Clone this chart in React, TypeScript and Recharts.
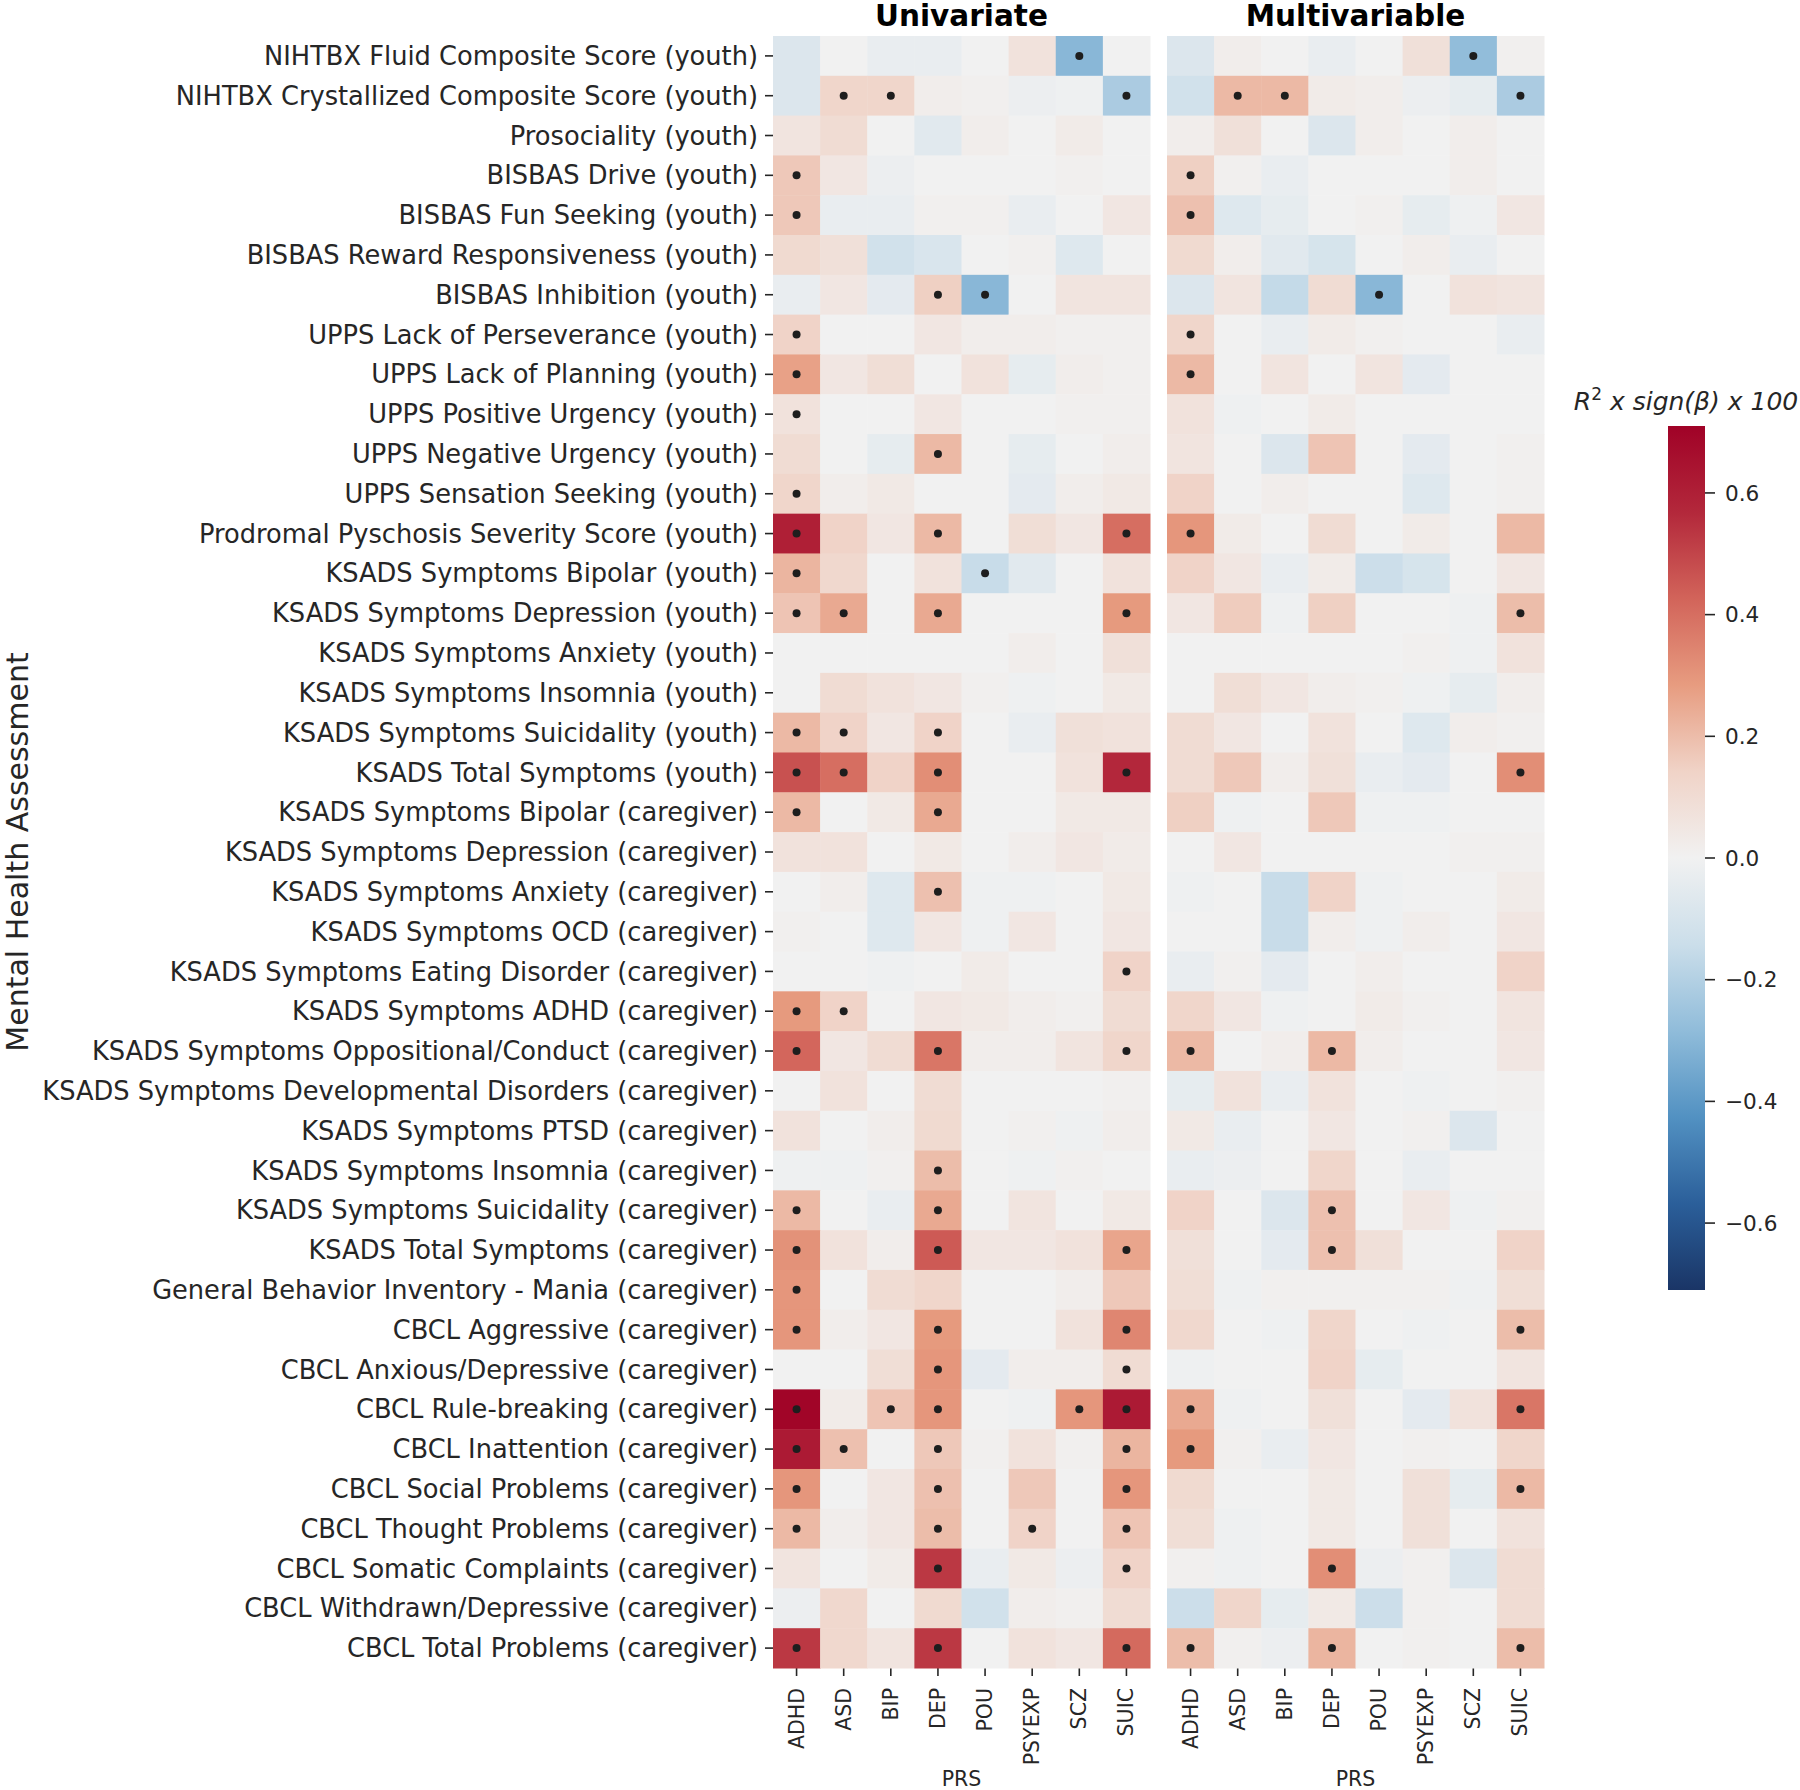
import { Bar, BarChart, Scatter, ScatterChart, XAxis, YAxis } from 'recharts';

const measures = [
  'NIHTBX Fluid Composite Score (youth)',
  'NIHTBX Crystallized Composite Score (youth)',
  'Prosociality (youth)',
  'BISBAS Drive (youth)',
  'BISBAS Fun Seeking (youth)',
  'BISBAS Reward Responsiveness (youth)',
  'BISBAS Inhibition (youth)',
  'UPPS Lack of Perseverance (youth)',
  'UPPS Lack of Planning (youth)',
  'UPPS Positive Urgency (youth)',
  'UPPS Negative Urgency (youth)',
  'UPPS Sensation Seeking (youth)',
  'Prodromal Pyschosis Severity Score (youth)',
  'KSADS Symptoms Bipolar (youth)',
  'KSADS Symptoms Depression (youth)',
  'KSADS Symptoms Anxiety (youth)',
  'KSADS Symptoms Insomnia (youth)',
  'KSADS Symptoms Suicidality (youth)',
  'KSADS Total Symptoms (youth)',
  'KSADS Symptoms Bipolar (caregiver)',
  'KSADS Symptoms Depression (caregiver)',
  'KSADS Symptoms Anxiety (caregiver)',
  'KSADS Symptoms OCD (caregiver)',
  'KSADS Symptoms Eating Disorder (caregiver)',
  'KSADS Symptoms ADHD (caregiver)',
  'KSADS Symptoms Oppositional/Conduct (caregiver)',
  'KSADS Symptoms Developmental Disorders (caregiver)',
  'KSADS Symptoms PTSD (caregiver)',
  'KSADS Symptoms Insomnia (caregiver)',
  'KSADS Symptoms Suicidality (caregiver)',
  'KSADS Total Symptoms (caregiver)',
  'General Behavior Inventory - Mania (caregiver)',
  'CBCL Aggressive (caregiver)',
  'CBCL Anxious/Depressive (caregiver)',
  'CBCL Rule-breaking (caregiver)',
  'CBCL Inattention (caregiver)',
  'CBCL Social Problems (caregiver)',
  'CBCL Thought Problems (caregiver)',
  'CBCL Somatic Complaints (caregiver)',
  'CBCL Withdrawn/Depressive (caregiver)',
  'CBCL Total Problems (caregiver)',
];

const prsScores = ['ADHD', 'ASD', 'BIP', 'DEP', 'POU', 'PSYEXP', 'SCZ', 'SUIC'];

// R^2 x sign(beta) x 100, one row per measure, columns follow prsScores
const univariate = [
  [-0.08, 0.0, -0.03, -0.03, 0.0, 0.07, -0.3, 0.0],
  [-0.08, 0.13, 0.13, 0.02, 0.01, -0.02, -0.01, -0.22],
  [0.06, 0.1, 0.0, -0.06, 0.02, 0.0, 0.03, 0.0],
  [0.17, 0.05, -0.02, 0.0, 0.0, 0.0, 0.01, 0.0],
  [0.17, -0.03, -0.03, 0.01, 0.01, -0.03, 0.0, 0.05],
  [0.11, 0.08, -0.12, -0.09, 0.0, 0.01, -0.07, 0.0],
  [-0.03, 0.05, -0.05, 0.15, -0.3, 0.0, 0.06, 0.06],
  [0.14, 0.0, 0.0, 0.05, 0.02, 0.02, 0.01, 0.01],
  [0.27, 0.05, 0.09, 0.0, 0.07, -0.04, 0.02, 0.01],
  [0.07, 0.0, 0.0, 0.05, 0.0, 0.0, 0.01, 0.01],
  [0.1, 0.0, -0.04, 0.21, 0.0, -0.04, 0.0, 0.02],
  [0.13, 0.02, 0.04, 0.0, 0.0, -0.05, 0.02, 0.04],
  [0.6, 0.14, 0.05, 0.21, 0.0, 0.09, 0.05, 0.4],
  [0.22, 0.12, 0.0, 0.07, -0.15, -0.06, 0.0, 0.07],
  [0.18, 0.25, 0.0, 0.25, 0.0, 0.0, 0.0, 0.29],
  [0.0, 0.0, 0.0, 0.0, 0.0, 0.02, 0.0, 0.08],
  [0.0, 0.1, 0.07, 0.05, 0.01, -0.01, 0.0, 0.04],
  [0.21, 0.14, 0.05, 0.14, 0.0, -0.03, 0.08, 0.07],
  [0.47, 0.4, 0.14, 0.32, 0.0, 0.0, 0.07, 0.57],
  [0.21, 0.0, 0.04, 0.25, 0.0, 0.0, 0.04, 0.04],
  [0.07, 0.07, 0.0, 0.04, 0.0, 0.02, 0.05, 0.03],
  [0.0, 0.02, -0.07, 0.19, -0.01, -0.01, 0.0, 0.04],
  [0.01, 0.0, -0.07, 0.05, -0.01, 0.05, 0.0, 0.05],
  [0.0, 0.0, -0.01, 0.0, 0.03, 0.0, 0.0, 0.14],
  [0.29, 0.14, 0.0, 0.05, 0.04, 0.02, 0.01, 0.1],
  [0.42, 0.05, 0.1, 0.38, 0.02, 0.02, 0.06, 0.13],
  [0.0, 0.07, 0.0, 0.1, 0.0, 0.0, 0.0, 0.01],
  [0.07, 0.0, 0.02, 0.11, 0.0, 0.01, -0.01, 0.02],
  [-0.01, -0.01, 0.01, 0.2, 0.0, -0.01, 0.01, 0.0],
  [0.21, 0.0, -0.03, 0.25, 0.0, 0.06, 0.0, 0.04],
  [0.31, 0.07, 0.02, 0.45, 0.05, 0.05, 0.07, 0.26],
  [0.3, 0.0, 0.1, 0.13, 0.0, 0.0, 0.02, 0.17],
  [0.3, 0.02, 0.05, 0.29, 0.0, 0.0, 0.07, 0.34],
  [0.0, 0.0, 0.09, 0.3, -0.05, 0.02, 0.02, 0.1],
  [0.7, 0.03, 0.18, 0.3, 0.0, -0.01, 0.3, 0.62],
  [0.62, 0.19, 0.0, 0.17, 0.01, 0.07, 0.01, 0.22],
  [0.3, 0.0, 0.05, 0.19, 0.0, 0.17, 0.0, 0.3],
  [0.21, 0.02, 0.05, 0.2, 0.0, 0.14, 0.0, 0.18],
  [0.06, 0.0, 0.03, 0.53, -0.03, 0.04, -0.02, 0.14],
  [-0.02, 0.12, 0.0, 0.11, -0.12, 0.02, 0.01, 0.1],
  [0.53, 0.12, 0.06, 0.53, 0.0, 0.07, 0.05, 0.41],
];

// 1 = significant (dot)
const univariateSig = [
  '00000010', '01100001', '00000000', '10000000', '10000000', '00000000', '00011000',
  '10000000', '10000000', '10000000', '00010000', '10000000', '10010001', '10001000',
  '11010001', '00000000', '00000000', '11010000', '11010001', '10010000', '00000000',
  '00010000', '00000000', '00000001', '11000000', '10010001', '00000000', '00000000',
  '00010000', '10010000', '10010001', '10000000', '10010001', '00010001', '10110011',
  '11010001', '10010001', '10010101', '00010001', '00000000', '10010001',
];

const multivariable = [
  [-0.08, 0.02, 0.0, -0.03, 0.0, 0.08, -0.28, 0.01],
  [-0.12, 0.21, 0.21, 0.03, 0.02, -0.02, -0.04, -0.22],
  [0.02, 0.08, 0.0, -0.08, 0.02, 0.0, 0.02, 0.0],
  [0.15, 0.01, -0.03, 0.0, 0.0, 0.0, 0.02, 0.0],
  [0.19, -0.07, -0.04, 0.0, 0.01, -0.04, -0.01, 0.05],
  [0.11, 0.02, -0.06, -0.1, 0.0, 0.02, -0.03, 0.0],
  [-0.08, 0.06, -0.16, 0.1, -0.3, 0.0, 0.07, 0.06],
  [0.13, 0.0, -0.03, 0.03, 0.01, 0.0, 0.0, -0.03],
  [0.21, 0.0, 0.06, 0.0, 0.06, -0.05, 0.0, 0.0],
  [0.07, -0.01, 0.0, 0.03, 0.0, 0.0, 0.0, 0.0],
  [0.06, 0.0, -0.08, 0.18, 0.0, -0.05, 0.0, 0.01],
  [0.14, 0.0, 0.02, 0.0, 0.0, -0.07, 0.0, 0.01],
  [0.3, 0.03, 0.0, 0.1, 0.0, 0.03, 0.0, 0.21],
  [0.14, 0.05, -0.03, 0.03, -0.14, -0.1, 0.0, 0.05],
  [0.05, 0.16, -0.01, 0.15, 0.0, 0.0, -0.01, 0.2],
  [0.0, 0.0, 0.0, 0.0, 0.0, 0.01, -0.01, 0.07],
  [0.0, 0.09, 0.05, 0.02, 0.01, -0.01, -0.04, 0.02],
  [0.1, 0.05, 0.0, 0.07, 0.0, -0.07, 0.02, 0.01],
  [0.1, 0.17, 0.02, 0.08, -0.03, -0.05, 0.0, 0.32],
  [0.15, -0.01, 0.0, 0.17, -0.01, -0.01, 0.0, 0.0],
  [0.0, 0.05, 0.0, 0.0, 0.0, 0.0, 0.01, 0.01],
  [-0.01, 0.0, -0.15, 0.14, -0.01, 0.0, 0.0, 0.03],
  [0.0, 0.0, -0.15, 0.02, -0.01, 0.02, 0.0, 0.05],
  [-0.03, 0.01, -0.05, 0.0, 0.02, 0.0, 0.0, 0.14],
  [0.13, 0.05, -0.01, 0.0, 0.03, 0.01, 0.0, 0.06],
  [0.21, 0.0, 0.02, 0.21, 0.02, 0.0, 0.0, 0.05],
  [-0.04, 0.07, -0.03, 0.07, 0.0, -0.01, 0.0, 0.01],
  [0.04, -0.03, 0.0, 0.05, 0.0, 0.01, -0.08, 0.0],
  [-0.03, -0.02, 0.0, 0.13, 0.0, -0.03, 0.0, 0.0],
  [0.14, 0.0, -0.08, 0.19, 0.0, 0.05, -0.01, 0.01],
  [0.08, 0.0, -0.05, 0.19, 0.08, 0.0, 0.0, 0.14],
  [0.09, -0.01, 0.01, 0.01, 0.01, 0.01, -0.01, 0.09],
  [0.12, 0.0, -0.01, 0.13, 0.0, -0.01, 0.0, 0.2],
  [-0.01, 0.0, 0.0, 0.14, -0.04, 0.0, 0.0, 0.06],
  [0.25, -0.01, 0.0, 0.08, 0.0, -0.05, 0.07, 0.38],
  [0.29, 0.01, -0.03, 0.05, 0.0, 0.01, 0.0, 0.13],
  [0.11, 0.0, 0.0, 0.04, 0.0, 0.08, -0.04, 0.21],
  [0.09, -0.01, 0.0, 0.04, 0.0, 0.08, 0.0, 0.07],
  [0.01, -0.01, 0.0, 0.32, -0.02, 0.01, -0.08, 0.1],
  [-0.14, 0.13, -0.04, 0.04, -0.14, 0.01, 0.0, 0.1],
  [0.2, 0.01, -0.02, 0.22, 0.0, 0.01, 0.0, 0.2],
];

const multivariableSig = [
  '00000010', '01100001', '00000000', '10000000', '10000000', '00000000', '00001000',
  '10000000', '10000000', '00000000', '00000000', '00000000', '10000000', '00000000',
  '00000001', '00000000', '00000000', '00000000', '00000001', '00000000', '00000000',
  '00000000', '00000000', '00000000', '00000000', '10010000', '00000000', '00000000',
  '00000000', '00010000', '00010000', '00000000', '00000001', '00000000', '10000001',
  '10000000', '00000001', '00000000', '00010000', '00000000', '10010001',
];

const colorbarTicks = [-0.6, -0.4, -0.2, 0, 0.2, 0.4, 0.6];
const V_LIMIT = 0.71;

// diverging blue-grey-red ramp, low to high (as it appears in the figure)
const RAMP = [
  '#1a3566', '#2b5f9a', '#5291c2', '#90bcda', '#cbdeea', '#f1f1f1',
  '#f0d3c7', '#e79c80', '#d2645a', '#b3283b', '#a00227',
];

const FONT = '"DejaVu Sans", sans-serif';
const INK = '#262626';

const PLOT_TOP = 36;
const PLOT_H = 1632;
const PANEL_W = 377;
const X_AXIS_H = 1790 - PLOT_TOP - PLOT_H;
const CELL_W = PANEL_W / prsScores.length;
const CELL_H = PLOT_H / measures.length;

function hexToRgb(hex: string) {
  return [1, 3, 5].map((i) => parseInt(hex.slice(i, i + 2), 16));
}

function heatColor(v: number) {
  const t = Math.min(1, Math.max(0, (v + V_LIMIT) / (2 * V_LIMIT))) * (RAMP.length - 1);
  const i = Math.min(RAMP.length - 2, Math.floor(t));
  const f = t - i;
  const a = hexToRgb(RAMP[i]);
  const b = hexToRgb(RAMP[i + 1]);
  const c = a.map((av, k) => Math.round(av + (b[k] - av) * f));
  return `rgb(${c[0]},${c[1]},${c[2]})`;
}

function toCells(values: number[][], sig: string[]) {
  return values.flatMap((row, r) =>
    row.map((value, c) => ({ x: c, y: r, value, sig: sig[r][c] === '1' })),
  );
}

function HeatCell(props: any) {
  const { cx, cy, payload } = props;
  return (
    <g>
      <rect
        x={cx - CELL_W / 2}
        y={cy - CELL_H / 2}
        width={CELL_W + 0.5}
        height={CELL_H + 0.5}
        fill={heatColor(payload.value)}
      />
      {payload.sig && <circle cx={cx} cy={cy} r={4} fill="#1e1e1e" />}
    </g>
  );
}

function RotatedTick({ x, y, payload }: any) {
  return (
    <text
      transform={`translate(${x},${y}) rotate(-90)`}
      textAnchor="end"
      dominantBaseline="central"
      fontSize={20.5}
      fontFamily={FONT}
      fill={INK}
    >
      {prsScores[payload.value]}
    </text>
  );
}

function HeatPanel({
  values,
  sig,
  width,
  left,
  right,
  labels,
}: {
  values: number[][];
  sig: string[];
  width: number;
  left: number;
  right: number;
  labels: boolean;
}) {
  return (
    <ScatterChart
      width={width}
      height={1790}
      margin={{ top: PLOT_TOP, right, bottom: 0, left }}
    >
      <XAxis
        type="number"
        dataKey="x"
        domain={[-0.5, prsScores.length - 0.5]}
        ticks={prsScores.map((_, i) => i)}
        interval={0}
        height={X_AXIS_H}
        axisLine={false}
        tickSize={8}
        tickMargin={12}
        tickLine={{ stroke: INK, strokeWidth: 1.6 }}
        tick={<RotatedTick />}
        label={{ value: 'PRS', position: 'insideBottom', offset: 4, fill: INK, fontSize: 20.5, fontFamily: FONT }}
      />
      <YAxis
        type="number"
        dataKey="y"
        reversed
        domain={[-0.5, measures.length - 0.5]}
        ticks={measures.map((_, i) => i)}
        interval={0}
        width={labels ? 773 : 0}
        hide={!labels}
        axisLine={false}
        tickSize={8}
        tickMargin={7}
        tickLine={{ stroke: INK, strokeWidth: 1.6 }}
        tick={{ fill: INK, fontSize: 25.7, fontFamily: FONT }}
        tickFormatter={(i: number) => measures[i]}
      />
      <Scatter data={toCells(values, sig)} shape={<HeatCell />} isAnimationActive={false} />
    </ScatterChart>
  );
}

function ColorBar() {
  const data = [{ name: 'scale', range: [-V_LIMIT, V_LIMIT] }];
  return (
    <BarChart
      width={200}
      height={1790}
      data={data}
      barCategoryGap={0}
      margin={{ top: 426, right: 0, bottom: 500, left: 68 }}
    >
      <defs>
        <linearGradient id="cbarFill" x1="0" y1="1" x2="0" y2="0">
          {RAMP.map((c, i) => (
            <stop key={c} offset={`${(i / (RAMP.length - 1)) * 100}%`} stopColor={c} />
          ))}
        </linearGradient>
      </defs>
      <XAxis dataKey="name" hide />
      <YAxis
        orientation="right"
        type="number"
        domain={[-V_LIMIT, V_LIMIT]}
        ticks={colorbarTicks}
        interval={0}
        width={95}
        axisLine={false}
        tickSize={10}
        tickMargin={10}
        tickLine={{ stroke: INK, strokeWidth: 1.6 }}
        tick={{ fill: INK, fontSize: 21.6, fontFamily: FONT, textAnchor: 'start' }}
        tickFormatter={(v: number) => (v < 0 ? `\u2212${Math.abs(v).toFixed(1)}` : v.toFixed(1))}
      />
      <Bar dataKey="range" fill="url(#cbarFill)" isAnimationActive={false} />
    </BarChart>
  );
}

export default function App() {
  return (
    <div style={{ position: 'absolute', left: 0, top: 0, width: 1800, height: 1790, background: '#fff', fontFamily: FONT }}>
      <div style={{ position: 'absolute', left: 0, top: 0 }}>
        <HeatPanel values={univariate} sig={univariateSig} width={1160} left={0} right={10} labels />
      </div>
      <div style={{ position: 'absolute', left: 1160, top: 0 }}>
        <HeatPanel values={multivariable} sig={multivariableSig} width={400} left={7} right={16} labels={false} />
      </div>
      <div style={{ position: 'absolute', left: 1600, top: 0 }}>
        <ColorBar />
      </div>
      <svg
        width={1800}
        height={1790}
        style={{ position: 'absolute', left: 0, top: 0, pointerEvents: 'none' }}
        fontFamily={FONT}
      >
        <text x={961.5} y={26} textAnchor="middle" fontSize={29.5} fontWeight="bold" fill="#000">
          Univariate
        </text>
        <text x={1355.5} y={26} textAnchor="middle" fontSize={29.5} fontWeight="bold" fill="#000">
          Multivariable
        </text>
        <text
          transform="translate(17,852) rotate(-90)"
          textAnchor="middle"
          dominantBaseline="central"
          fontSize={30}
          fill={INK}
        >
          Mental Health Assessment
        </text>
        <text x={1686} y={410} textAnchor="middle" fontSize={25} fontStyle="italic" fill={INK}>
          <tspan>R</tspan>
          <tspan dy={-10} fontSize={17} fontStyle="normal">2</tspan>
          <tspan dy={10}> x sign(β) x 100</tspan>
        </text>
      </svg>
    </div>
  );
}
